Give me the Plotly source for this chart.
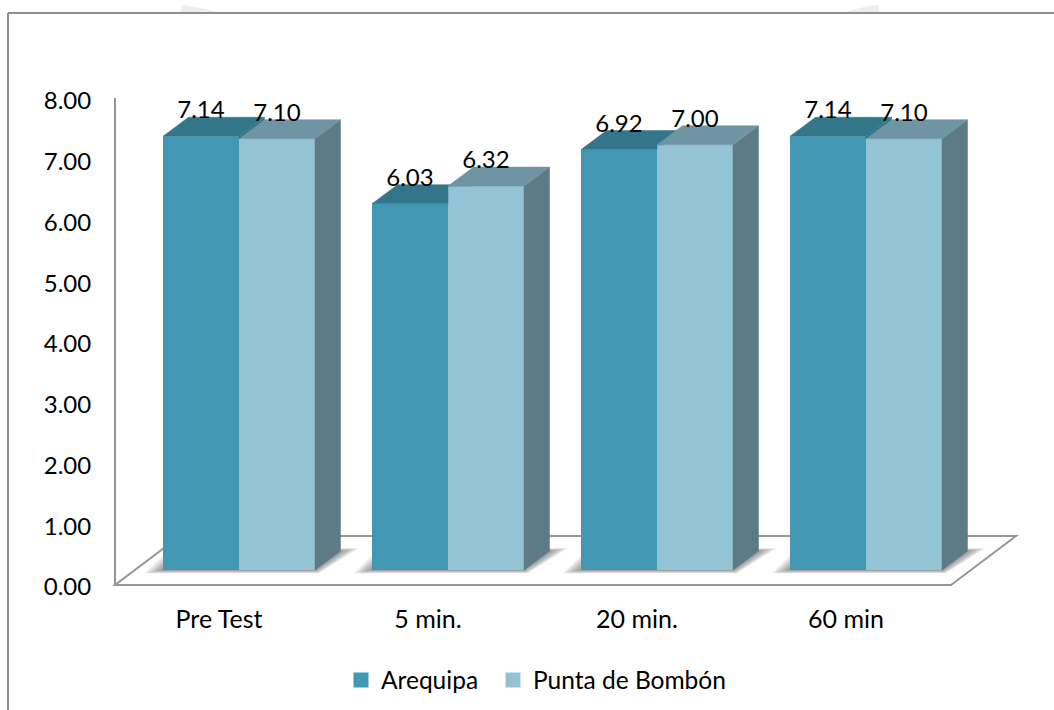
import plotly.graph_objects as go

# ---- data ----
categories = ["Pre Test", "5 min.", "20 min.", "60 min"]
arequipa = [7.14, 6.03, 6.92, 7.14]
punta = [7.10, 6.32, 7.00, 7.10]
y_ticks = [0, 1, 2, 3, 4, 5, 6, 7, 8]

FONT = "Lato"
FS = 24
W, H = 1054, 710
C_FRONT = ["#4297b2", "#93c3d5"]
C_TOP = ["#33768a", "#6f95a5"]
C_SIDE = "#5d7b86"
C_LINE = "#969696"

# pixel scale of the two axes
X0_PX, X_STEP = 239.0, 209.0      # centre of first group, group spacing
Y0_PX, Y_UNIT = 584.0, 60.75      # value 0 position, px per unit
X = lambda p: (p - X0_PX) / X_STEP
Y = lambda p: (Y0_PX - p) / Y_UNIT

BAR_W = 76 / X_STEP
DX = 25.5 / X_STEP
DY = 19 / Y_UNIT
LIFT = 14 / Y_UNIT
LABEL_UP = 24 / Y_UNIT
TICK_SHIFT = 20 / X_STEP
YTICK_SHIFT = 3 / Y_UNIT


def path(points):
    return "M" + " L".join(f"{x},{y}" for x, y in points) + " Z"


shapes = []
# frame of the picture
for x0, y0, x1, y1 in [(8, 13, 8, 710), (8, 13, 1054, 13)]:
    shapes.append(dict(type="line", xref="paper", yref="paper",
                       x0=x0 / W, x1=x1 / W, y0=1 - y0 / H, y1=1 - y1 / H,
                       line=dict(color="#8f8f8f", width=2)))
# faint smudges above the frame
for pts in [[(180, 12), (183, 5), (200, 8), (218, 12)], [(845, 12), (868, 6), (879, 5), (879, 12)]]:
    shapes.append(dict(type="path", xref="paper", yref="paper", layer="below",
                       path=path([(x / W, 1 - y / H) for x, y in pts]),
                       fillcolor="rgba(150,150,150,0.16)", line=dict(width=0)))

# floor
floor = [(X(115), Y(585)), (X(951), Y(585)), (X(1016), Y(536)), (X(180), Y(536))]
shapes.append(dict(type="path", xref="x", yref="y", layer="below", path=path(floor),
                   fillcolor="white", line=dict(color=C_LINE, width=2)))
# value axis line
shapes.append(dict(type="line", xref="x", yref="y", layer="below",
                   x0=X(115), x1=X(115), y0=Y(585), y1=8,
                   line=dict(color=C_LINE, width=2)))

# soft shadows on the floor
for i in range(len(categories)):
    x0 = i - BAR_W
    x1 = i + BAR_W
    base = LIFT
    for e in (18, 15, 12, 9, 6, 3, 1):
        ex = e / X_STEP
        ey = e / Y_UNIT
        pts = [(x0 - ex, base - 0.18 * ey), (x1 + 0.2 * ex, base - 0.18 * ey),
               (x1 + DX + ex, base + DY + 0.15 * ey), (x0 + DX - ex, base + DY + 0.15 * ey)]
        shapes.append(dict(type="path", xref="x", yref="y", layer="below", path=path(pts),
                           fillcolor="rgba(80,80,80,0.12)", line=dict(width=0)))

fig = go.Figure()

# front faces
for name, vals, col in [("Arequipa", arequipa, C_FRONT[0]), ("Punta de Bombón", punta, C_FRONT[1])]:
    fig.add_trace(go.Bar(x=list(range(len(categories))), y=vals, base=[LIFT] * len(vals), name=name,
                         marker=dict(color=col, line=dict(width=0)), showlegend=False, hoverinfo="skip"))


def poly(points, color):
    fig.add_trace(go.Scatter(x=[p[0] for p in points] + [points[0][0]],
                             y=[p[1] for p in points] + [points[0][1]],
                             mode="lines", fill="toself", fillcolor=color,
                             line=dict(width=0.5, color=color), showlegend=False, hoverinfo="skip"))


# top and side faces
for i, (a, b) in enumerate(zip(arequipa, punta)):
    ya, yb = a + LIFT, b + LIFT
    xa0, xm, xb1 = i - BAR_W, i, i + BAR_W
    top_a = [(xa0, ya), (xm, ya), (xm + DX, ya + DY), (xa0 + DX, ya + DY)]
    if yb > ya:
        # the taller neighbour's front face hides part of this top face
        if yb < ya + DY:
            xi = xm + DX * (yb - ya) / DY
            top_a = [(xa0, ya), (xm, ya), (xm, yb), (xi, yb), (xm + DX, ya + DY), (xa0 + DX, ya + DY)]
        else:
            top_a = [(xa0, ya), (xm, ya), (xm, ya + DY), (xa0 + DX, ya + DY)]
    top_b = [(xm, yb), (xb1, yb), (xb1 + DX, yb + DY), (xm + DX, yb + DY)]
    side_b = [(xb1, LIFT), (xb1 + DX, LIFT + DY), (xb1 + DX, yb + DY), (xb1, yb)]
    poly(side_b, C_SIDE)
    if ya >= yb:
        poly(top_b, C_TOP[1])
        poly([(xm, yb), (xm + DX, yb + DY), (xm + DX, ya + DY), (xm, ya)], C_TOP[0])
        poly(top_a, C_TOP[0])
    else:
        poly(top_a, C_TOP[0])
        poly(top_b, C_TOP[1])

# value labels
for off, vals in [(-BAR_W / 2, arequipa), (BAR_W / 2, punta)]:
    fig.add_trace(go.Scatter(x=[i + off for i in range(len(vals))],
                             y=[v + LIFT + LABEL_UP for v in vals],
                             text=[f"{v:.2f}" for v in vals], mode="text",
                             textposition="middle center",
                             textfont=dict(family=FONT, size=FS, color="black"),
                             showlegend=False, hoverinfo="skip"))

# legend entries, one legend box each so their spacing can follow the reference
for name, col, leg in [("Arequipa", C_FRONT[0], "legend"), ("Punta de Bombón", C_FRONT[1], "legend2")]:
    fig.add_trace(go.Scatter(x=[None], y=[None], name=name, mode="markers", legend=leg, showlegend=True,
                             marker=dict(symbol="square", size=15, color=col)))

leg_style = dict(orientation="h", xanchor="left", y=1 - 680 / H, yanchor="middle",
                 font=dict(family=FONT, size=24.5), itemwidth=30, bgcolor="rgba(0,0,0,0)")

fig.update_layout(
    width=W, height=H, margin=dict(l=0, r=0, t=0, b=0, autoexpand=False),
    paper_bgcolor="white", plot_bgcolor="rgba(0,0,0,0)",
    barmode="group", bargap=1 - 2 * BAR_W, bargroupgap=0,
    shapes=shapes, font=dict(family=FONT, size=FS, color="black"),
    legend=dict(x=341 / W, **leg_style),
    legend2=dict(x=493 / W, **leg_style),
    xaxis=dict(domain=[110 / W, 1], range=[X(110), X(W)], showgrid=False, zeroline=False,
               showline=False, tickmode="array",
               tickvals=[i - TICK_SHIFT for i in range(len(categories))], ticktext=categories,
               ticks="outside", ticklen=4, tickcolor="rgba(0,0,0,0)",
               tickfont=dict(family=FONT, size=FS + 1, color="black")),
    yaxis=dict(domain=[1 - 593 / H, 1 - 90 / H], range=[Y(593), Y(90)], showgrid=False, zeroline=False,
               showline=False, tickmode="array",
               tickvals=[t - YTICK_SHIFT for t in y_ticks], ticktext=[f"{t:.2f}" for t in y_ticks],
               ticks="outside", ticklen=13, tickcolor="rgba(0,0,0,0)",
               tickfont=dict(family=FONT, size=FS, color="black")),
)

fig.write_html("out.html", post_script="document.body.style.margin='0';",
               config=dict(displayModeBar=False))
